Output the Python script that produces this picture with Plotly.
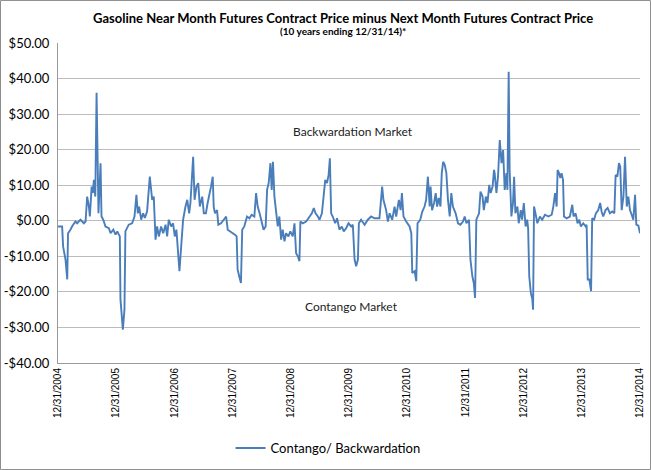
import plotly.graph_objects as go

# Gasoline near month minus next month futures price in four stretches

dates_05_07 = [
    "2004-12-31", "2005-01-26", "2005-02-01", "2005-02-16", "2005-02-27", "2005-03-04",
    "2005-03-19", "2005-03-29", "2005-04-19", "2005-04-30", "2005-05-21", "2005-06-11",
    "2005-06-22", "2005-07-02", "2005-07-13", "2005-07-19", "2005-07-30", "2005-08-07",
    "2005-08-13", "2005-08-22", "2005-08-30", "2005-09-05", "2005-09-11", "2005-09-24",
    "2005-09-30", "2005-10-11", "2005-10-25", "2005-11-15", "2005-11-26", "2005-12-13",
    "2005-12-27", "2006-01-07", "2006-01-23", "2006-01-27", "2006-02-11", "2006-02-21",
    "2006-02-27", "2006-03-20", "2006-04-10", "2006-04-25", "2006-05-07", "2006-05-16",
    "2006-05-24", "2006-06-06", "2006-06-18", "2006-06-29", "2006-07-13", "2006-07-30",
    "2006-08-14", "2006-08-24", "2006-09-04", "2006-09-14", "2006-09-25", "2006-10-09",
    "2006-10-22", "2006-11-06", "2006-11-16", "2006-11-26", "2006-12-11", "2006-12-23",
    "2007-01-03", "2007-01-13", "2007-02-01", "2007-02-12", "2007-02-24", "2007-03-11",
    "2007-03-22", "2007-04-03", "2007-04-11", "2007-04-28", "2007-05-07", "2007-05-19",
    "2007-05-30", "2007-06-09", "2007-06-24", "2007-07-04",
]
spread_05_07 = [
    -1.6, -1.6, -7.2, -10.9, -16.5, -3.5,
    -2.5, -1.6, -0.2, -0.7, 0.3, -0.7,
    -0.2, 6.8, 4.0, 1.2, 9.6, 7.8,
    11.5, 6.8, 36.0, 16.2, 2.1, 16.2,
    1.2, 0.3, -1.6, -2.1, -3.5, -2.5,
    -3.9, -3.0, -4.4, -22.1, -30.6, -25.0,
    -3.0, -1.1, -0.7, 1.2, 7.3, 2.1,
    4.0, 0.3, 2.1, 0.8, 2.6, 12.4,
    5.9, 6.8, -5.3, -1.6, -4.4, -1.6,
    -3.5, -1.1, -4.4, 0.3, -1.6, -0.7,
    -4.4, -2.5, -14.2, -7.2, 0.3, 4.0,
    5.9, 2.1, 5.0, 18.0, 5.9, 9.6,
    10.6, 4.0, 6.8, 2.1,
]

dates_07_09 = [
    "2007-07-17", "2007-07-28", "2007-08-07", "2007-08-18", "2007-08-29", "2007-09-04",
    "2007-09-12", "2007-09-25", "2007-10-03", "2007-10-20", "2007-11-06", "2007-11-21",
    "2007-12-01", "2007-12-18", "2008-01-01", "2008-01-15", "2008-01-26", "2008-02-01",
    "2008-02-11", "2008-02-22", "2008-03-01", "2008-03-14", "2008-03-31", "2008-04-15",
    "2008-04-29", "2008-05-16", "2008-05-27", "2008-06-06", "2008-06-18", "2008-07-01",
    "2008-07-13", "2008-07-26", "2008-08-04", "2008-08-14", "2008-08-25", "2008-09-02",
    "2008-09-10", "2008-09-19", "2008-09-29", "2008-10-10", "2008-10-20", "2008-10-31",
    "2008-11-10", "2008-11-21", "2008-12-01", "2008-12-16", "2008-12-28", "2009-01-12",
    "2009-01-23", "2009-02-02", "2009-02-13", "2009-02-23", "2009-03-01", "2009-03-16",
    "2009-04-06", "2009-04-27", "2009-05-12", "2009-05-24", "2009-06-04", "2009-06-19",
    "2009-06-29", "2009-07-14", "2009-07-26", "2009-08-04", "2009-08-15", "2009-08-25",
    "2009-09-02", "2009-09-10", "2009-09-20", "2009-10-05", "2009-10-17", "2009-11-01",
    "2009-11-16", "2009-11-28", "2009-12-13", "2009-12-28", "2010-01-14",
]
spread_07_09 = [
    2.1, 5.0, 7.8, 9.6, 12.4, 4.0,
    2.1, 3.0, -1.1, -0.7, 0.3, 1.2,
    -2.5, -3.0, -3.5, -3.9, -4.4, -13.7,
    -15.6, -17.5, -2.5, -1.6, 1.2, 0.7,
    1.7, 1.2, 7.8, 4.0, 2.1, -0.7,
    -2.5, -1.6, 8.7, 10.6, 16.2, 8.7,
    16.6, 6.8, 2.1, -1.6, 1.2, -5.3,
    -2.5, -5.8, -3.5, -4.4, -3.0, -4.4,
    -0.7, -9.1, -10.0, -11.4, -0.2, -0.7,
    -0.2, 1.2, 2.1, 3.6, 2.1, 1.2,
    0.3, 2.1, 6.8, 11.5, 10.6, 12.9,
    17.6, 2.1, 1.2, -0.7, 0.7, -2.5,
    -1.6, -3.0, -2.1, -0.7, -1.6,
]

dates_10_12 = [
    "2010-01-24", "2010-02-04", "2010-02-14", "2010-02-25", "2010-03-03", "2010-03-17",
    "2010-04-08", "2010-04-28", "2010-05-19", "2010-06-09", "2010-07-10", "2010-07-27",
    "2010-08-04", "2010-08-21", "2010-09-01", "2010-09-12", "2010-09-28", "2010-10-13",
    "2010-10-23", "2010-11-09", "2010-11-20", "2010-11-28", "2010-12-08", "2010-12-25",
    "2011-01-15", "2011-01-26", "2011-02-01", "2011-02-16", "2011-02-26", "2011-03-06",
    "2011-03-23", "2011-04-05", "2011-04-19", "2011-04-29", "2011-05-10", "2011-05-21",
    "2011-05-27", "2011-06-05", "2011-06-18", "2011-06-28", "2011-07-07", "2011-07-17",
    "2011-07-28", "2011-08-05", "2011-08-14", "2011-08-24", "2011-09-03", "2011-09-13",
    "2011-09-24", "2011-10-04", "2011-10-14", "2011-10-31", "2011-11-15", "2011-11-30",
    "2011-12-16", "2011-12-27", "2012-01-07", "2012-01-23", "2012-02-01", "2012-02-13",
    "2012-02-22", "2012-03-01", "2012-03-09", "2012-03-26", "2012-04-04", "2012-04-17",
    "2012-04-25", "2012-05-08", "2012-05-18", "2012-05-29", "2012-06-07", "2012-06-19",
    "2012-06-28",
]
spread_10_12 = [
    -1.1, -10.9, -12.8, -10.9, -0.7, 0.3,
    -1.1, 0.3, 1.2, 0.7, 0.7, 9.6,
    5.9, 3.0, -0.2, 2.1, 0.3, 4.0,
    1.2, 5.9, 3.0, 7.8, 1.2, -0.2,
    -1.6, -3.5, -14.7, -14.2, -17.0, -0.7,
    0.3, 2.6, 4.0, 5.9, 12.4, 4.0,
    9.6, 3.0, 5.0, 7.8, 4.0, 6.4,
    4.0, 13.4, 16.6, 15.7, 13.4, 5.9,
    1.2, 7.8, 4.0, 2.1, -0.7, -1.1,
    -0.2, 1.2, -0.7, 0.3, -10.9, -15.6,
    -17.5, -21.7, 0.3, 2.1, 8.2, 6.8,
    3.0, 6.8, 5.0, 10.1, 7.8, 9.6,
    14.3,
]

dates_12_14 = [
    "2012-07-02", "2012-07-13", "2012-07-23", "2012-08-03", "2012-08-14", "2012-08-24",
    "2012-09-03", "2012-09-14", "2012-09-20", "2012-09-28", "2012-10-04", "2012-10-15",
    "2012-10-25", "2012-11-01", "2012-11-09", "2012-11-22", "2012-11-30", "2012-12-13",
    "2012-12-21", "2013-01-01", "2013-01-12", "2013-01-22", "2013-01-28", "2013-02-04",
    "2013-02-14", "2013-02-23", "2013-02-28", "2013-03-06", "2013-03-15", "2013-03-27",
    "2013-04-12", "2013-04-26", "2013-05-14", "2013-06-04", "2013-06-25", "2013-07-05",
    "2013-07-16", "2013-07-26", "2013-08-01", "2013-08-10", "2013-08-18", "2013-08-26",
    "2013-09-04", "2013-09-10", "2013-09-27", "2013-10-17", "2013-11-01", "2013-11-09",
    "2013-11-22", "2013-12-04", "2013-12-15", "2013-12-25", "2014-01-09", "2014-01-24",
    "2014-01-30", "2014-02-06", "2014-02-16", "2014-02-27", "2014-03-06", "2014-03-18",
    "2014-03-29", "2014-04-13", "2014-04-25", "2014-05-04", "2014-05-14", "2014-05-29",
    "2014-06-11", "2014-06-25", "2014-07-10", "2014-07-23", "2014-07-31", "2014-08-11",
    "2014-08-21", "2014-08-29", "2014-09-07", "2014-09-18", "2014-09-28", "2014-10-09",
    "2014-10-19", "2014-10-29", "2014-11-09", "2014-11-19", "2014-11-30", "2014-12-08",
    "2014-12-21", "2014-12-31",
]
spread_12_14 = [
    13.4, 7.8, 12.4, 22.7, 16.2, 19.9,
    8.7, 13.4, 8.7, 41.9, 14.3, 1.2,
    5.0, 12.4, 2.1, 4.0, -0.7, 3.0,
    0.3, 5.0, -1.6, 0.3, -2.1, -15.6,
    -20.3, -22.0, -25.0, 4.0, 2.1, -0.7,
    1.2, 0.3, 1.7, 1.2, 1.7, 4.0,
    7.8, 4.0, 14.3, 13.4, 12.0, 13.4,
    11.5, 1.2, 0.7, 1.2, 4.5, 1.2,
    2.1, -0.7, 0.3, -1.6, -0.7, -1.6,
    -1.1, -16.5, -16.5, -19.8, 0.7, 0.3,
    2.1, 3.0, 5.0, 2.6, 1.2, 3.0,
    3.6, 2.1, 2.6, 2.1, 12.9, 12.4,
    16.2, 15.2, 3.0, 6.8, 18.0, 4.0,
    6.8, 3.0, 1.7, 0.3, 7.3, -1.1,
    -1.4, -3.5,
]

year_ticks = ["2004-12-31", "2005-12-31", "2006-12-31", "2007-12-31", "2008-12-31", "2009-12-31",
              "2010-12-31", "2011-12-31", "2012-12-31", "2013-12-31", "2014-12-31"]
year_labels = ["12/31/2004", "12/31/2005", "12/31/2006", "12/31/2007", "12/31/2008", "12/31/2009",
               "12/31/2010", "12/31/2011", "12/31/2012", "12/31/2013", "12/31/2014"]
y_ticks = [-40, -30, -20, -10, 0, 10, 20, 30, 40, 50]
y_labels = ["-$40.00", "-$30.00", "-$20.00", "-$10.00", "$0.00",
            "$10.00", "$20.00", "$30.00", "$40.00", "$50.00"]

FONT = "Lato, 'Open Sans', sans-serif"

dates = dates_05_07 + dates_07_09 + dates_10_12 + dates_12_14
spread = spread_05_07 + spread_07_09 + spread_10_12 + spread_12_14

fig = go.Figure()
fig.add_trace(go.Scatter(
    x=dates, y=spread,
    mode="lines",
    name="Contango/ Backwardation",
    line=dict(color="#4a7ebb", width=1.9),
))

fig.update_layout(
    width=651, height=470,
    margin=dict(l=58, r=11, t=43, b=107, autoexpand=False),
    paper_bgcolor="white",
    plot_bgcolor="white",
    font=dict(family=FONT, size=12, color="#000000"),
    showlegend=True,
    legend=dict(
        orientation="h", x=0.464, xanchor="center", y=-0.266, yanchor="middle",
        font=dict(family=FONT, size=13, color="#000000"),
    ),
    annotations=[
        dict(text="<b>Gasoline Near Month Futures Contract Price minus Next Month Futures Contract Price</b>",
             xref="paper", yref="paper", x=0.49, y=1.078, showarrow=False,
             xanchor="center", yanchor="middle", font=dict(family=FONT, size=13)),
        dict(text="<b>(10 years ending 12/31/14)*</b>",
             xref="paper", yref="paper", x=0.49, y=1.038, showarrow=False,
             xanchor="center", yanchor="middle", font=dict(family=FONT, size=10)),
        dict(text="Backwardation Market", xref="paper", yref="y", x=0.507, y=25,
             showarrow=False, font=dict(family=FONT, size=12, color="#222222")),
        dict(text="Contango Market", xref="paper", yref="y", x=0.505, y=-24.2,
             showarrow=False, font=dict(family=FONT, size=12, color="#222222")),
    ],
    shapes=[
        dict(type="rect", xref="paper", yref="paper",
             x0=-0.0988, x1=1.018, y0=-0.333, y1=1.133,
             line=dict(color="#8c8c8c", width=1), fillcolor="rgba(0,0,0,0)", layer="above"),
    ],
)

fig.update_xaxes(
    type="date",
    range=["2004-12-31", "2014-12-31"],
    tickvals=year_ticks, ticktext=year_labels,
    tickangle=-90,
    tickfont=dict(family="'Liberation Sans', Arial, sans-serif", size=10, color="#000000"),
    showgrid=False, zeroline=False,
    showline=True, linecolor="#9a9a9a", linewidth=1,
    ticks="", automargin=False,
)
fig.update_yaxes(
    range=[-40, 50],
    tickvals=y_ticks, ticktext=y_labels,
    tickfont=dict(family=FONT, size=13, color="#000000"),
    ticklabelstandoff=5,
    showgrid=True, gridcolor="#bcbcbc", gridwidth=1,
    zeroline=False,
    showline=True, linecolor="#9a9a9a", linewidth=1,
    ticks="", automargin=False,
)

# the page body keeps the browser's 8px margin otherwise, which shifts the chart
fig.write_html("out.html", config={"displayModeBar": False},
               post_script="document.body.style.margin='0';")
